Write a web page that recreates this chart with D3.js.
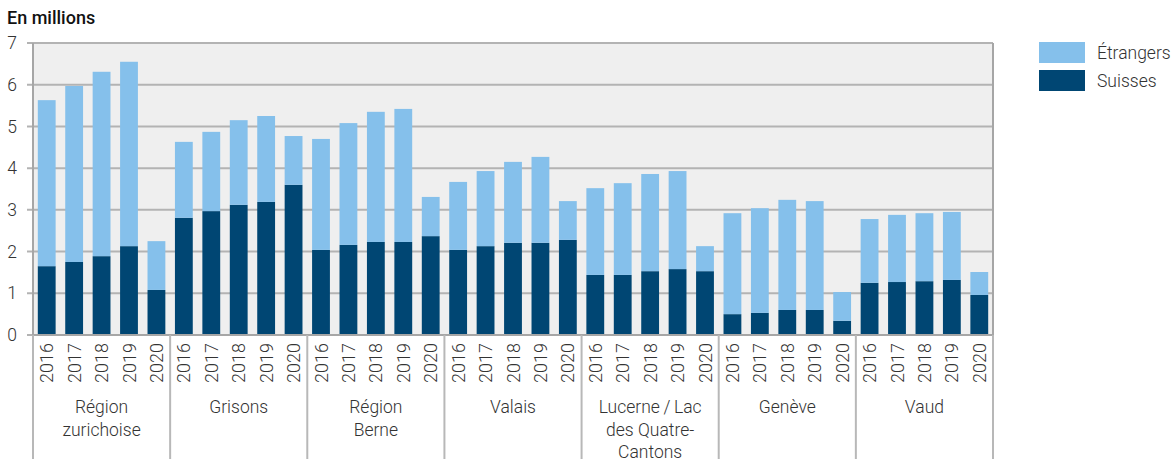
<!DOCTYPE html>
<html>
<head>
<meta charset="utf-8">
<script src="https://cdn.jsdelivr.net/npm/d3@7"></script>
<style>
  body { margin: 0; background: #fff; }
  svg text { font-family: Roboto, "Noto Sans", sans-serif; fill: #333; }
</style>
</head>
<body>
<div id="chart"></div>
<script>
// data, in millions of overnight stays
const regions = ["Région zurichoise", "Grisons", "Région Berne", "Valais",
  "Lucerne / Lac des Quatre-Cantons", "Genève", "Vaud"];
const regionLines = [
  ["Région", "zurichoise"],
  ["Grisons"],
  ["Région", "Berne"],
  ["Valais"],
  ["Lucerne\u2009/\u2009Lac", "des Quatre-", "Cantons"],
  ["Genève"],
  ["Vaud"]
];
const years = ["2016", "2017", "2018", "2019", "2020"];
const suisses = [
  [1.65, 1.75, 1.89, 2.13, 1.08],
  [2.81, 2.97, 3.12, 3.19, 3.60],
  [2.04, 2.16, 2.23, 2.23, 2.37],
  [2.04, 2.13, 2.21, 2.21, 2.28],
  [1.44, 1.44, 1.53, 1.58, 1.53],
  [0.50, 0.53, 0.60, 0.60, 0.34],
  [1.25, 1.27, 1.29, 1.32, 0.96]
];
const etrangers = [
  [3.98, 4.22, 4.42, 4.42, 1.17],
  [1.82, 1.90, 2.03, 2.06, 1.17],
  [2.66, 2.92, 3.12, 3.19, 0.94],
  [1.63, 1.80, 1.94, 2.06, 0.93],
  [2.08, 2.20, 2.33, 2.35, 0.60],
  [2.42, 2.51, 2.64, 2.61, 0.69],
  [1.53, 1.61, 1.63, 1.63, 0.55]
];
const yTicks = [0, 1, 2, 3, 4, 5, 6, 7];
const seriesNames = ["Suisses", "Étrangers"];
const colors = { "Suisses": "#004673", "Étrangers": "#85c0eb" };

const W = 1173, H = 459;
const m = { top: 43, left: 33, right: 180, bottom: 124 };
const pw = W - m.left - m.right, ph = H - m.top - m.bottom;

const rows = [];
regions.forEach((r, i) => years.forEach((y, j) => {
  rows.push({ region: r, year: y, "Suisses": suisses[i][j], "Étrangers": etrangers[i][j] });
}));

const svg = d3.select("#chart").append("svg")
  .attr("width", W).attr("height", H);

svg.append("text")
  .attr("x", 7).attr("y", 24)
  .style("font-size", "18px").style("font-weight", 500).style("fill", "#111")
  .text("En millions");

const g = svg.append("g").attr("transform", `translate(${m.left},${m.top})`);

const x0 = d3.scaleBand().domain(regions).range([0, pw]);
const x1 = d3.scaleBand().domain(years).range([0, x0.bandwidth()])
  .paddingInner(0.35).paddingOuter(0.175);
const y = d3.scaleLinear().domain([0, 7]).range([ph, 0]);

// plot background
g.append("rect").attr("width", pw).attr("height", ph).attr("fill", "#efefef");

// gridlines + y ticks
g.selectAll(".grid").data(yTicks).join("line")
  .attr("x1", -6).attr("x2", pw)
  .attr("y1", d => y(d)).attr("y2", d => y(d))
  .attr("stroke", "#b3b3b3").attr("stroke-width", 2);

const yAxis = g.append("g").call(d3.axisLeft(y).tickValues(yTicks)
  .tickFormat(d3.format("d")).tickSize(0).tickPadding(16));
yAxis.select(".domain").remove();
yAxis.selectAll("text").style("font-size", "17.5px").style("font-weight", 300)
  .style("font-family", "Roboto, sans-serif").attr("fill", "#333");

// stacked bars
const stack = d3.stack().keys(seriesNames)(rows);
g.selectAll(".series").data(stack).join("g")
  .attr("fill", d => colors[d.key])
  .selectAll("rect").data(d => d).join("rect")
  .attr("x", d => x0(d.data.region) + x1(d.data.year))
  .attr("width", x1.bandwidth())
  .attr("y", d => y(d[1]))
  .attr("height", d => y(d[0]) - y(d[1]));

// axes frame
g.append("line").attr("x1", 0).attr("x2", 0).attr("y1", 0).attr("y2", ph)
  .attr("stroke", "#a6a6a6").attr("stroke-width", 2);
g.append("line").attr("x1", pw).attr("x2", pw).attr("y1", 0).attr("y2", ph)
  .attr("stroke", "#a6a6a6").attr("stroke-width", 2);
g.append("line").attr("x1", 0).attr("x2", pw).attr("y1", ph).attr("y2", ph)
  .attr("stroke", "#a6a6a6").attr("stroke-width", 2);

// group separators below axis
const seps = regions.map(r => x0(r)).concat([pw]);
g.selectAll(".sep").data(seps).join("line")
  .attr("x1", d => d).attr("x2", d => d)
  .attr("y1", ph).attr("y2", H - m.top)
  .attr("stroke", "#b8b8b8").attr("stroke-width", 2);

// year labels
regions.forEach(r => {
  g.append("g").selectAll("text").data(years).join("text")
    .attr("transform", d => `translate(${x0(r) + x1(d) + x1.bandwidth() / 2 + 6.5},${ph + 8}) rotate(-90)`)
    .attr("text-anchor", "end")
    .style("font-size", "18px").style("font-weight", 300)
    .text(d => d);
});

// region labels
regions.forEach((r, i) => {
  const t = g.append("text")
    .attr("text-anchor", "middle")
    .style("font-size", "17.5px").style("font-weight", 300);
  regionLines[i].forEach((line, k) => {
    t.append("tspan")
      .attr("x", x0(r) + x0.bandwidth() / 2)
      .attr("y", ph + 78 + k * 22.5)
      .text(line);
  });
});

// legend
const legend = svg.append("g").attr("transform", "translate(1039,42)");
["Étrangers", "Suisses"].forEach((s, i) => {
  legend.append("rect").attr("x", 0).attr("y", i * 28)
    .attr("width", 46).attr("height", 21).attr("fill", colors[s]);
  legend.append("text").attr("x", 58).attr("y", i * 28 + 17)
    .style("font-size", "17.5px").style("font-weight", 300)
    .text(s);
});
</script>
</body>
</html>
